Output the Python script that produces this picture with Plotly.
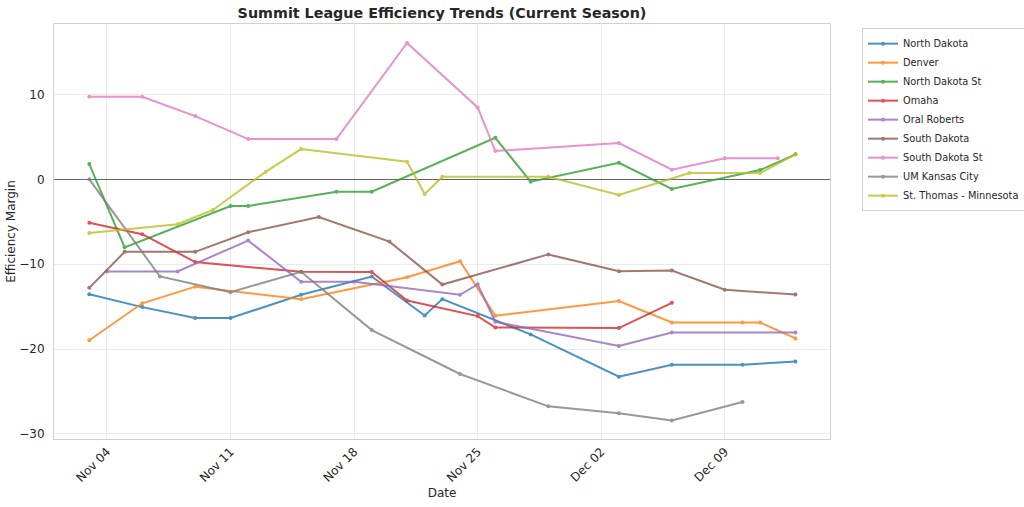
import plotly.graph_objects as go

teams = ["North Dakota", "Denver", "North Dakota St", "Omaha", "Oral Roberts",
         "South Dakota", "South Dakota St", "UM Kansas City", "St. Thomas - Minnesota"]
colors = ["#1f77b4", "#ff7f0e", "#2ca02c", "#d62728", "#9467bd",
          "#8c564b", "#e377c2", "#7f7f7f", "#bcbd22"]

nd_dates = ["2024-11-03", "2024-11-06", "2024-11-09", "2024-11-11", "2024-11-15", "2024-11-19",
            "2024-11-22", "2024-11-23", "2024-11-28", "2024-12-03", "2024-12-06", "2024-12-10", "2024-12-13"]
nd_vals = [-13.55, -15.06, -16.35, -16.35, -13.61, -11.46, -16.05, -14.12, -18.28, -23.26, -21.85, -21.85, -21.46]

den_dates = ["2024-11-03", "2024-11-06", "2024-11-09", "2024-11-15", "2024-11-21", "2024-11-24",
             "2024-11-26", "2024-12-03", "2024-12-06", "2024-12-10", "2024-12-11", "2024-12-13"]
den_vals = [-18.96, -14.61, -12.65, -14.14, -11.55, -9.65, -16.08, -14.35, -16.87, -16.87, -16.87, -18.75]

ndsu_dates = ["2024-11-03", "2024-11-05", "2024-11-11", "2024-11-12", "2024-11-17", "2024-11-19",
              "2024-11-26", "2024-11-28", "2024-12-03", "2024-12-06", "2024-12-11", "2024-12-13"]
ndsu_vals = [1.8, -8.02, -3.14, -3.14, -1.46, -1.46, 4.89, -0.28, 1.95, -1.14, 1.09, 2.94]

oma_dates = ["2024-11-03", "2024-11-06", "2024-11-09", "2024-11-15", "2024-11-19", "2024-11-21",
             "2024-11-25", "2024-11-26", "2024-12-03", "2024-12-06"]
oma_vals = [-5.12, -6.47, -9.75, -10.9, -10.93, -14.28, -16.12, -17.46, -17.53, -14.55]

oru_dates = ["2024-11-04", "2024-11-08", "2024-11-12", "2024-11-15", "2024-11-18", "2024-11-24",
             "2024-11-25", "2024-11-26", "2024-12-03", "2024-12-06", "2024-12-13"]
oru_vals = [-10.85, -10.85, -7.22, -12.08, -12.08, -13.61, -12.38, -16.79, -19.65, -18.05, -18.05]

sd_dates = ["2024-11-03", "2024-11-05", "2024-11-09", "2024-11-12", "2024-11-16", "2024-11-20",
            "2024-11-23", "2024-11-29", "2024-12-03", "2024-12-06", "2024-12-09", "2024-12-13"]
sd_vals = [-12.79, -8.55, -8.55, -6.24, -4.44, -7.34, -12.4, -8.85, -10.82, -10.75, -13.02, -13.58]

sdsu_dates = ["2024-11-03", "2024-11-06", "2024-11-09", "2024-11-12", "2024-11-17", "2024-11-21",
              "2024-11-25", "2024-11-26", "2024-12-03", "2024-12-06", "2024-12-09", "2024-12-12"]
sdsu_vals = [9.72, 9.72, 7.45, 4.74, 4.74, 16.07, 8.47, 3.33, 4.27, 1.13, 2.47, 2.47]

umkc_dates = ["2024-11-03", "2024-11-07", "2024-11-11", "2024-11-15", "2024-11-19", "2024-11-24",
              "2024-11-29", "2024-12-03", "2024-12-06", "2024-12-10"]
umkc_vals = [0.0, -11.45, -13.3, -10.9, -17.77, -22.94, -26.75, -27.57, -28.43, -26.24]

stt_dates = ["2024-11-03", "2024-11-08", "2024-11-10", "2024-11-13", "2024-11-15", "2024-11-21",
             "2024-11-22", "2024-11-23", "2024-11-29", "2024-12-03", "2024-12-07", "2024-12-11", "2024-12-13"]
stt_vals = [-6.32, -5.29, -3.61, 0.9, 3.56, 2.07, -1.73, 0.31, 0.31, -1.85, 0.74, 0.74, 2.94]

series_dates = [nd_dates, den_dates, ndsu_dates, oma_dates, oru_dates, sd_dates, sdsu_dates, umkc_dates, stt_dates]
series_vals = [nd_vals, den_vals, ndsu_vals, oma_vals, oru_vals, sd_vals, sdsu_vals, umkc_vals, stt_vals]

tick_dates = ["2024-11-04", "2024-11-11", "2024-11-18", "2024-11-25", "2024-12-02", "2024-12-09"]
y_ticks = [-30, -20, -10, 0, 10]

FONT = "DejaVu Sans"

fig = go.Figure()
for name, col, xs, ys in zip(teams, colors, series_dates, series_vals):
    fig.add_trace(go.Scatter(
        x=xs, y=ys, mode="lines+markers", name=name,
        line=dict(color=col, width=2),
        marker=dict(color=col, size=4),
        opacity=0.8,
    ))

fig.update_layout(
    width=1024, height=507,
    margin=dict(l=54, r=194, t=24, b=68, autoexpand=False),
    paper_bgcolor="white", plot_bgcolor="white",
    font=dict(family=FONT, color="#262626"),
    title=dict(text="<b>Summit League Efficiency Trends (Current Season)</b>",
               x=0.5, xref="paper", y=1 - 13 / 507, yref="container",
               xanchor="center", yanchor="middle", automargin=False,
               font=dict(size=14.3, family=FONT, color="#262626")),
    showlegend=True,
    legend=dict(x=(862 - 54) / 776, y=0.99, xanchor="left", yanchor="top",
                bgcolor="white", bordercolor="#d0d0d0", borderwidth=1,
                font=dict(size=9.8, family=FONT, color="#262626"),
                itemwidth=30, tracegroupgap=0),
)

fig.update_xaxes(
    type="date", range=["2024-11-01", "2024-12-14 23:00"],
    tickvals=tick_dates, tickformat="%b %d", tickangle=-45,
    tickfont=dict(size=12, color="#262626"),
    showgrid=True, gridcolor="#ebebeb", gridwidth=1,
    showline=True, linecolor="#d0d0d0", linewidth=1, mirror=True,
    zeroline=False, ticks="", ticklabelstandoff=0, automargin=False,
    title=dict(text="Date", font=dict(size=12, color="#262626"), standoff=4),
)
fig.update_yaxes(
    range=[-30.6, 18.3], tickvals=y_ticks,
    tickfont=dict(size=12, color="#262626"),
    showgrid=True, gridcolor="#ebebeb", gridwidth=1,
    showline=True, linecolor="#d0d0d0", linewidth=1, mirror=True,
    zeroline=True, zerolinecolor="rgba(0,0,0,0.6)", zerolinewidth=1,
    ticks="", ticklabelstandoff=6, automargin=False,
    title=dict(text="Efficiency Margin", font=dict(size=12, color="#262626"), standoff=1),
)

fig.write_html("out.html", config={"displayModeBar": False},
               post_script="document.body.style.margin='0';")
